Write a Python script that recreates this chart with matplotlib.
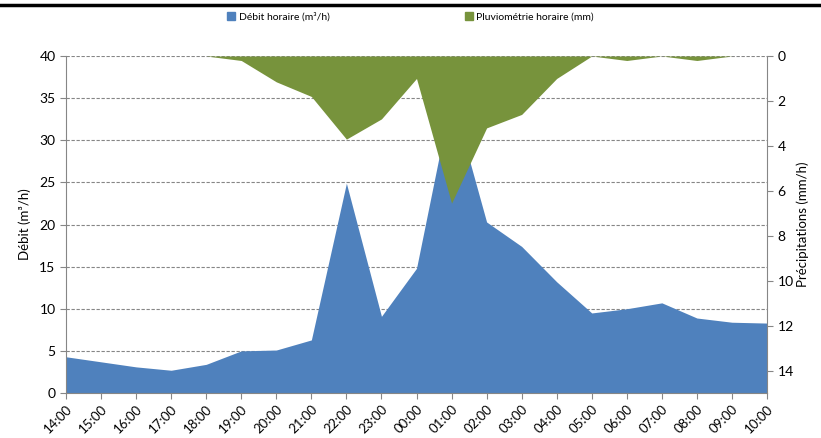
import matplotlib
matplotlib.use("Agg")
import matplotlib.pyplot as plt
import numpy as np

hours = ["14:00","15:00","16:00","17:00","18:00","19:00","20:00","21:00","22:00","23:00",
         "00:00","01:00","02:00","03:00","04:00","05:00","06:00","07:00","08:00","09:00","10:00"]
debit = [4.3, 3.7, 3.1, 2.7, 3.4, 5.0, 5.1, 6.3, 24.9, 9.1,
         14.8, 35.3, 20.3, 17.4, 13.2, 9.5, 10.0, 10.7, 8.9, 8.4, 8.3]
pluie = [0, 0, 0, 0, 0, 0.2, 1.15, 1.8, 3.7, 2.8,
         1.0, 6.55, 3.2, 2.6, 1.0, 0, 0.2, 0, 0.2, 0, 0]

plt.rcParams['font.family'] = ['Lato', 'DejaVu Sans']

fig = plt.figure(figsize=(8.21, 4.38), dpi=100)
ax1 = fig.add_axes([66/821, 1-393/438, (767-66)/821, (393-56)/438])
x = np.arange(len(hours))

blue = '#4F81BD'
green = '#77933C'
grid_c = '#868686'

ax1.fill_between(x, 0, debit, color=blue, lw=0, zorder=2)
ax1.set_xlim(0, len(hours)-1)
ax1.set_ylim(0, 40)
ax1.set_yticks(range(0, 41, 5))
ax1.yaxis.grid(True, linestyle=(0, (3, 1.5)), color=grid_c, lw=0.8, zorder=0)
ax1.set_axisbelow(True)
ax1.set_xticks(x)
ax1.set_xticklabels(hours, rotation=45, ha='right', va='top', rotation_mode='anchor', fontsize=9.5)
ax1.set_ylabel("Débit (m³/h)", fontsize=9.5, labelpad=6)
ax1.tick_params(axis='y', labelsize=10, length=4, color=grid_c)
ax1.tick_params(axis='x', length=4, color=grid_c, pad=3)
for s in ['top', 'right']:
    ax1.spines[s].set_visible(False)
for s in ['left', 'bottom']:
    ax1.spines[s].set_color(grid_c)

ax2 = ax1.twinx()
ax2.fill_between(x, 0, pluie, color=green, lw=0, zorder=3)
ax2.set_ylim(15, 0)
ax2.set_yticks(range(0, 15, 2))
ax2.tick_params(axis='y', labelsize=10, length=4, color=grid_c)
ax2.set_ylabel("Précipitations (mm/h)", fontsize=9.5, labelpad=2)
for s in ['top', 'left', 'bottom']:
    ax2.spines[s].set_visible(False)
ax2.spines['right'].set_color(grid_c)

# legend
from matplotlib.patches import Patch
handles = [Patch(color=blue, label="Débit horaire (m³/h)"),
           Patch(color=green, label="Pluviométrie horaire (mm)")]
fig.legend(handles=handles, loc='center', bbox_to_anchor=(0.5, 1-17/438), ncol=2,
           frameon=False, fontsize=7.5, handlelength=0.8, handleheight=0.8,
           handletextpad=0.3, columnspacing=13)

# top black line
fig.add_artist(plt.Line2D([0, 1], [1-4.5/438, 1-4.5/438], color='black', lw=2.5,
                          transform=fig.transFigure))

fig.savefig("out.png", dpi=100)
